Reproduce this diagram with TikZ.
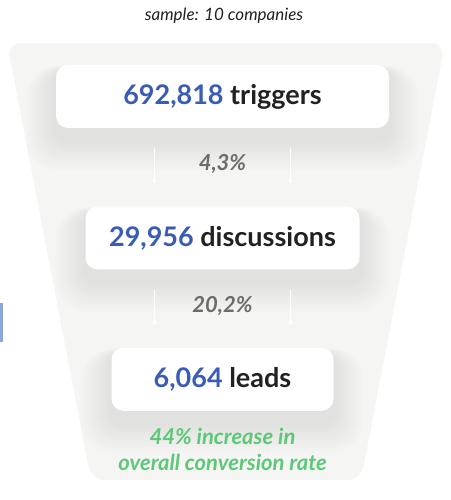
\documentclass[tikz,border=0pt]{standalone}
\usepackage{fontspec}
\setmainfont{Lato}
\usepackage{xcolor}
\definecolor{nblue}{RGB}{58,92,180}
\definecolor{ntext}{RGB}{33,33,33}
\definecolor{pgray}{RGB}{108,108,108}
\definecolor{lgreen}{RGB}{92,200,120}
\definecolor{funnelbg}{RGB}{245,245,244}
\definecolor{edgeblue}{RGB}{140,165,220}
\usetikzlibrary{arrows.meta,positioning,calc,backgrounds}

\begin{document}
\begin{tikzpicture}[
  x=1pt,y=1pt,
  node distance=78pt,
  stage/.style={rectangle,fill=white,rounded corners=12pt,minimum height=63pt,inner sep=0pt,font=\fontsize{27}{30}\selectfont\bfseries,text=ntext},
  rate/.style={font=\fontsize{22}{24}\selectfont\bfseries\itshape,text=pgray},
  flow/.style={-{Stealth[length=5pt,width=5pt]},white,line width=0.8pt},
  note/.style={font=\fontsize{22}{26}\selectfont\bfseries\itshape,text=lgreen,align=center}
]
  \useasboundingbox (0,0) rectangle (450,500);

  % title
  \node[font=\fontsize{17}{19}\selectfont\itshape,text=ntext] (title) at (224,484) {sample: 10 companies};

  % stages
  \node[stage,minimum width=333pt] (b1) at (222.5,403.5) {{\color{nblue}692,818} triggers};
  \node[stage,minimum width=274pt,below=of b1] (b2) {{\color{nblue}29,956} discussions};
  \node[stage,minimum width=222pt,below=of b2] (b3) {{\color{nblue}6,064} leads};

  % rates
  \path (b1) -- node[rate,yshift=3pt] (r1) {4,3\%} (b2);
  \path (b2) -- node[rate,yshift=3pt] (r2) {20,2\%} (b3);

  % arrows
  \draw[flow] ([xshift=-68pt,yshift=-20pt]b1.south) -- ([xshift=-68pt,yshift=22pt]b2.north);
  \draw[flow] ([xshift=68pt,yshift=-20pt]b1.south) -- ([xshift=68pt,yshift=22pt]b2.north);
  \draw[flow] ([xshift=-68pt,yshift=-20pt]b2.south) -- ([xshift=-68pt,yshift=22pt]b3.north);
  \draw[flow] ([xshift=68pt,yshift=-20pt]b2.south) -- ([xshift=68pt,yshift=22pt]b3.north);

  % result
  \node[note,below=14pt of b3] (gain) {44\% increase in\\overall conversion rate};

  % funnel and glow
  \begin{scope}[on background layer]
    \fill[funnelbg,rounded corners=14pt] (7,457) -- (445,457) -- (361,20) -- (91,20) -- cycle;
    \foreach \n in {b1,b2,b3}{
      \foreach \i [evaluate=\i as \r using 12+2*\i] in {1,...,10}{
        \fill[black,opacity=0.009,rounded corners=\r pt] ($(\n.south west)+(-\i*3,-\i*3-12)$) rectangle ($(\n.north east)+(\i*3,\i*0.5-6)$);
      }
    }
    \fill[edgeblue] (0,158) rectangle (2.5,197);
  \end{scope}
\end{tikzpicture}
\end{document}
